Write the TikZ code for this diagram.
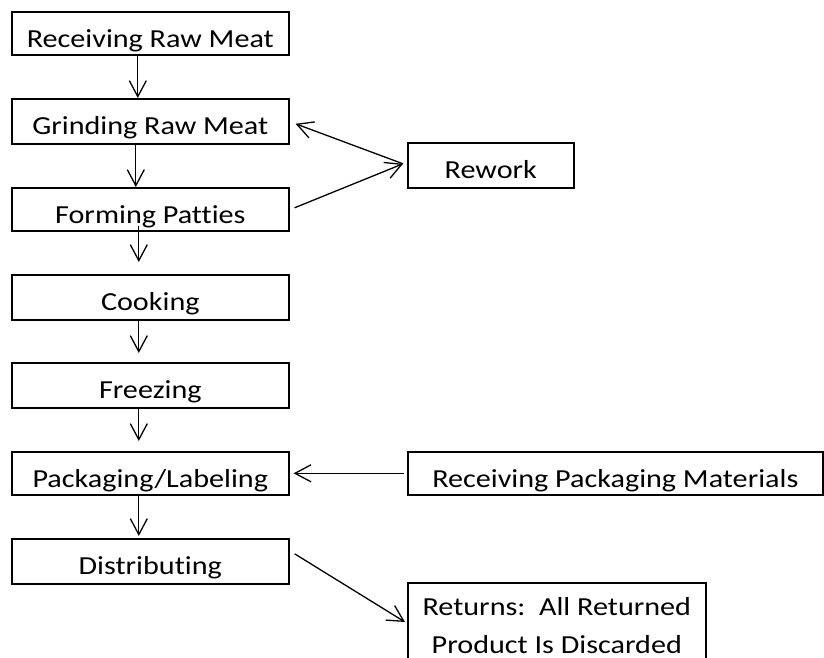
\documentclass[tikz,border=0pt]{standalone}
\usepackage{fontspec}
\setmainfont{Carlito}[FakeStretch=1.16,Ligatures=NoCommon]
\usetikzlibrary{arrows.meta}
\begin{document}
\begin{tikzpicture}[x=1pt,y=-1pt,
  pbox/.style={draw, line width=1.6pt, inner sep=0pt, anchor=north west, text height=35.5pt, align=center, font=\fontsize{26}{38}\selectfont},
  arr/.style={line width=1.3pt, -{Straight Barb[length=16pt,width=17pt,line width=1.3pt]}}]
\useasboundingbox (0,0) rectangle (824,658);
\clip (0,0) rectangle (824,658);
\fill[white] (0,0) rectangle (824,658);
\node[pbox, minimum width=277pt, text depth=7.5pt] (rrm) at (11,11) {Receiving Raw Meat};
\node[pbox, minimum width=277pt, text depth=9.5pt] (grm) at (11,98) {Grinding Raw Meat};
\node[pbox, minimum width=277pt, text depth=7.5pt] (fp) at (11,187) {Forming Patties};
\node[pbox, minimum width=277pt, text depth=9.5pt] (cook) at (11,274) {Cooking};
\node[pbox, minimum width=277pt, text depth=9.5pt] (frz) at (11,362) {Freezing};
\node[pbox, minimum width=277pt, text depth=7.5pt] (pack) at (11,451) {Packaging/Labeling};
\node[pbox, minimum width=277pt, text depth=9.5pt] (dist) at (11,538) {Distributing};
\node[pbox, minimum width=166pt, text depth=9.5pt] (rew) at (407,142) {Rework};
\node[pbox, minimum width=415pt, text depth=7.5pt] (rpm) at (407,451) {Receiving Packaging Materials};
\node[pbox, minimum width=298pt, text height=71pt, text depth=30pt] (ret) at (407,582) {Returns:\ \ All Returned\\Product Is Discarded};
% vertical flow
\draw[arr] ([xshift=-12.5pt]rrm.south) -- ([xshift=-12.5pt]grm.north);
\draw[arr] ([xshift=-14.5pt]grm.south) -- ([xshift=-14.5pt]fp.north);
\draw[arr] ([xshift=-11.5pt,yshift=6pt]fp.south) -- ([xshift=-11.5pt,yshift=12pt]cook.north);
\draw[arr] ([xshift=-11.5pt]cook.south) -- ([xshift=-11.5pt,yshift=9pt]frz.north);
\draw[arr] ([xshift=-11.5pt]frz.south) -- ([xshift=-11.5pt,yshift=10pt]pack.north);
\draw[arr] ([xshift=-11.5pt]pack.south) -- ([xshift=-11.5pt,yshift=2pt]dist.north);
% rework loop
\draw[arr] ([xshift=-4pt,yshift=1.5pt]rew.west) -- ([xshift=6pt,yshift=-2.5pt]grm.east);
\draw[arr] ([xshift=5pt,yshift=1.5pt]fp.east) -- ([xshift=-4pt,yshift=1.5pt]rew.west);
% packaging materials
\draw[arr] ([xshift=-3pt]rpm.west) -- ([xshift=4pt]pack.east);
% returns
\draw[arr] ([xshift=5pt,yshift=7.5pt]dist.east) -- ([xshift=-2pt,yshift=-40pt]ret.north west);
\end{tikzpicture}
\end{document}
